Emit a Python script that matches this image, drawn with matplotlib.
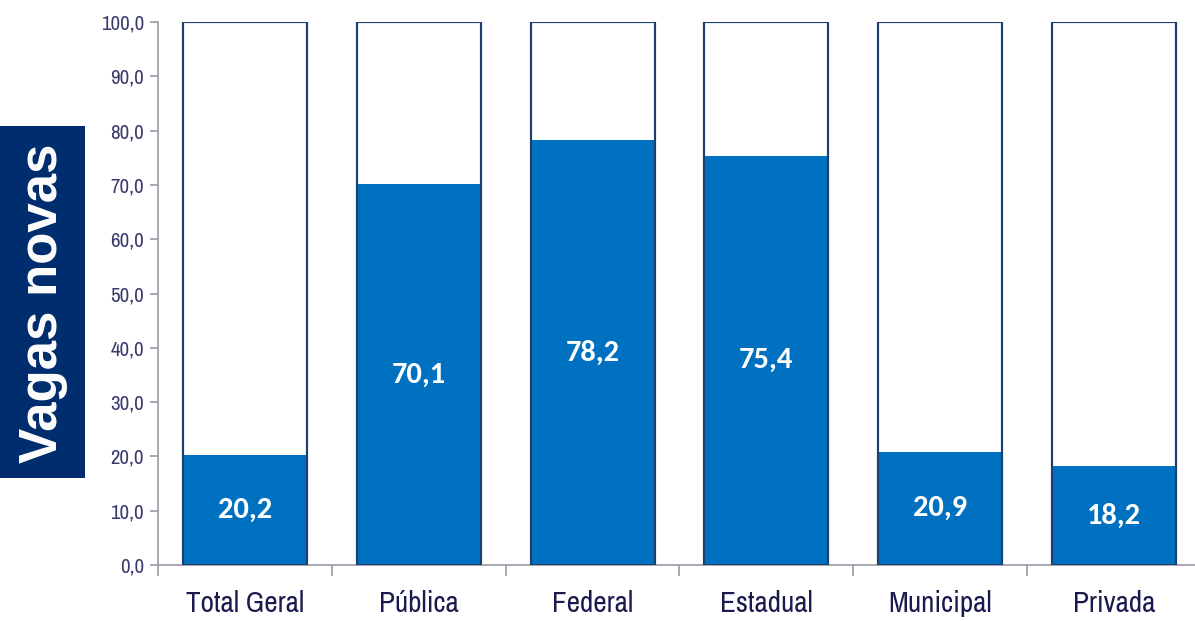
import matplotlib
matplotlib.use("Agg")
import matplotlib.pyplot as plt
from matplotlib.patches import Rectangle
import numpy as np

# data
categories = ["Total Geral", "Pública", "Federal", "Estadual", "Municipal", "Privada"]
values = [20.2, 70.1, 78.2, 75.4, 20.9, 18.2]
totals = [100.0] * len(values)
yticks = np.arange(0, 101, 10)

blue = "#0070C0"
edge = "#1B3F6E"
navy = "#002D6E"
txt = "#3A3A6E"
W, H = 1195, 621

fig = plt.figure(figsize=(W / 100, H / 100), dpi=100)
ax = fig.add_axes([158 / W, 56 / H, 1 - 158 / W + 0.005, 543 / H])

x = np.arange(len(categories))
w = 0.714
ax.bar(x, totals, width=w, color="white", edgecolor=edge, linewidth=1.5, zorder=2)
ax.bar(x, values, width=w, color=blue, edgecolor="none", zorder=3)
# outline again on top of the blue part
ax.bar(x, totals, width=w, color="none", edgecolor=edge, linewidth=1.5, zorder=4)

for xi, v in zip(x, values):
    ax.text(xi, v / 2, f"{v:.1f}".replace(".", ","), ha="center", va="center",
            color="white", fontsize=22, fontweight="bold", family="Carlito", zorder=5)

ax.set_xlim(-0.5, 5.5)
ax.set_ylim(0, 100)
ax.set_yticks(yticks)
ax.set_yticklabels([f"{t:.1f}".replace(".", ",") for t in yticks],
                   fontsize=15, color=txt, family="Archivo Narrow")
ax.set_xticks(x)
ax.set_xticklabels(categories, fontsize=21, color="#1A1A4E", family="Archivo Narrow")
ax.set_xticks(np.arange(-0.5, 5.6, 1), minor=True)
ax.tick_params(axis="x", which="major", length=0, pad=18)
ax.tick_params(axis="x", which="minor", length=8, color="#9A9AA6", width=1.2)
ax.tick_params(axis="y", length=6, color="#9A9AA6", width=1.2, pad=4)

for s in ["top", "right"]:
    ax.spines[s].set_visible(False)
for s in ["left", "bottom"]:
    ax.spines[s].set_color("#9A9AA6")
    ax.spines[s].set_linewidth(1.2)

# side label box
fig.patches.append(Rectangle((0, 1 - 478 / H), 85 / W, 352 / H, transform=fig.transFigure,
                             facecolor=navy, edgecolor="none", zorder=0))
fig.text(43 / W, 1 - 303 / H, "Vagas novas", rotation=90, ha="center", va="center",
         color="white", fontsize=38, fontweight="bold", family="Liberation Sans")

fig.savefig("out.png", dpi=100)
